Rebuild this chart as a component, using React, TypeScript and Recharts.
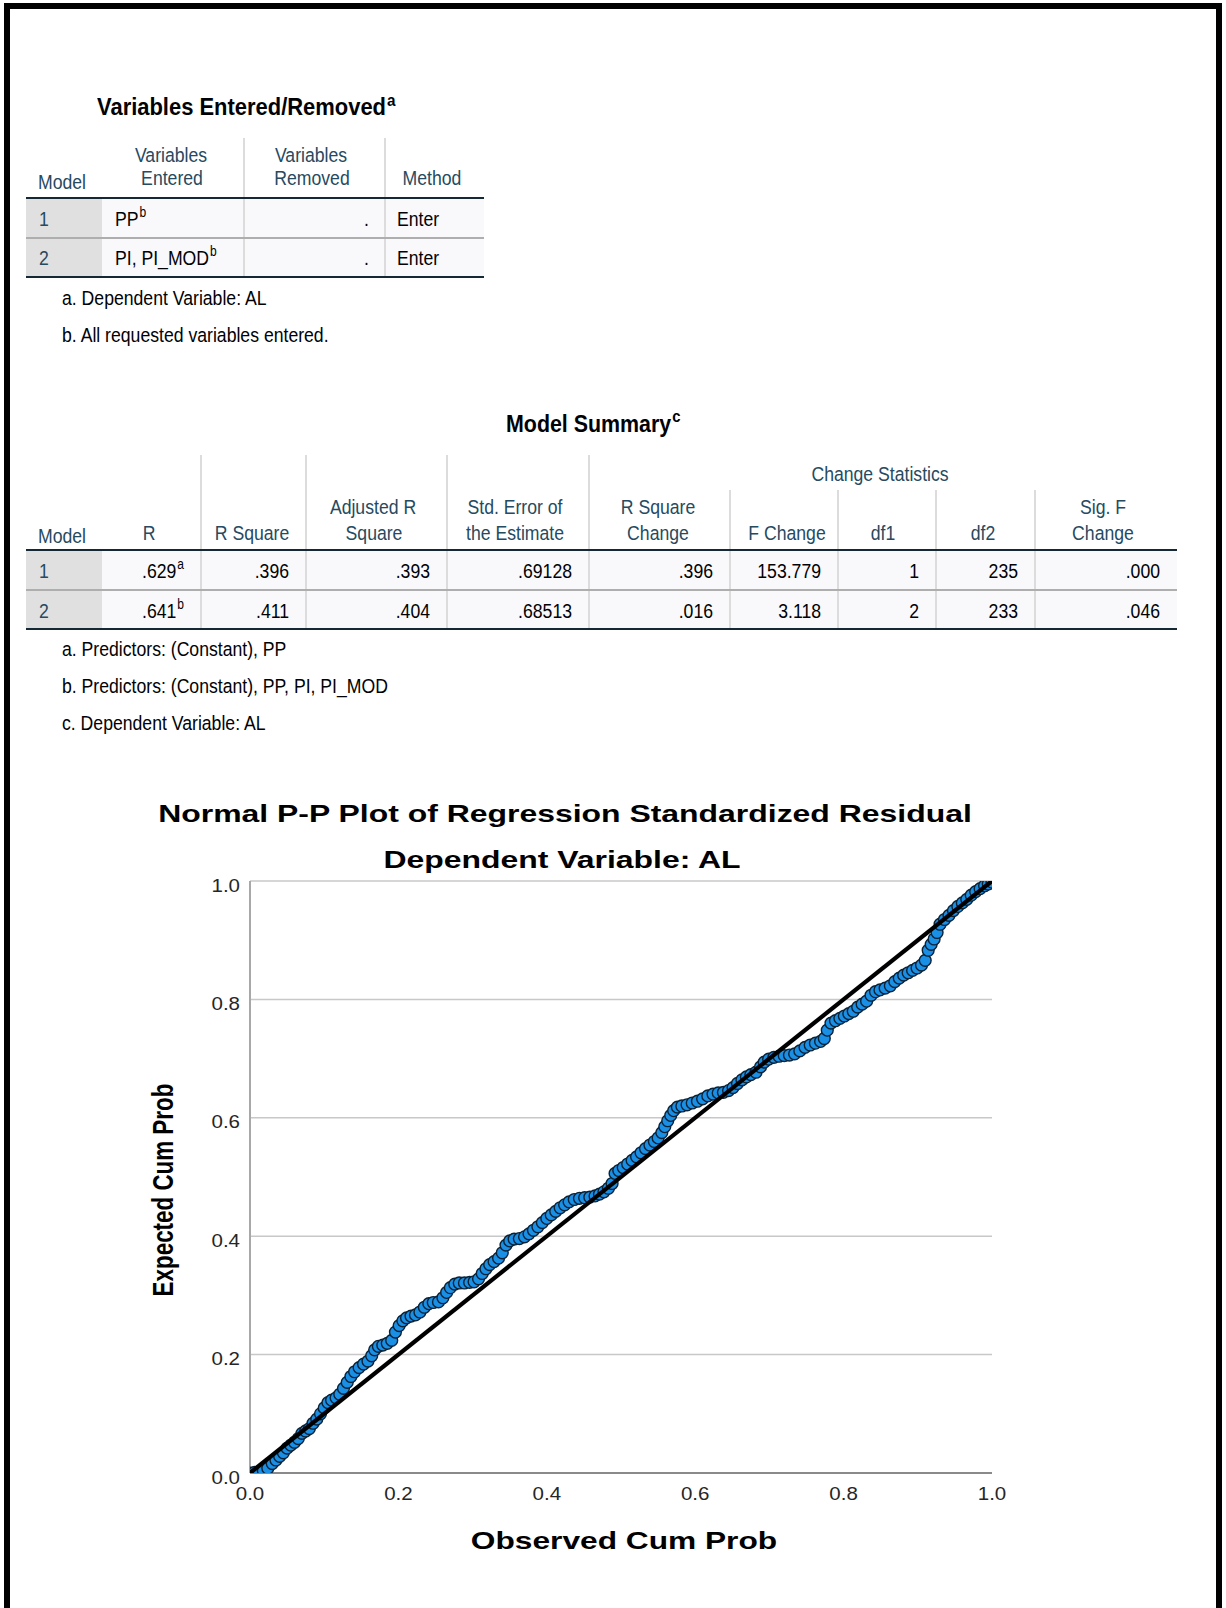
import React from 'react';
import { ScatterChart, Scatter, XAxis, YAxis, CartesianGrid } from 'recharts';

// ---------------- DATA ----------------
const enteredRemovedRows = [
  { model: '1', entered: 'PP', enteredSup: 'b', removed: '.', method: 'Enter' },
  { model: '2', entered: 'PI, PI_MOD', enteredSup: 'b', removed: '.', method: 'Enter' },
];
const enteredRemovedNotes = ['a. Dependent Variable: AL', 'b. All requested variables entered.'];

const summaryRows = [
  { model: '1', r: '.629', rSup: 'a', values: ['.396', '.393', '.69128', '.396', '153.779', '1', '235', '.000'] },
  { model: '2', r: '.641', rSup: 'b', values: ['.411', '.404', '.68513', '.016', '3.118', '2', '233', '.046'] },
];
const summaryNotes = [
  'a. Predictors: (Constant), PP',
  'b. Predictors: (Constant), PP, PI, PI_MOD',
  'c. Dependent Variable: AL',
];

const axisTicks = [0, 0.2, 0.4, 0.6, 0.8, 1.0];
const axisTickLabels = ['0.0', '0.2', '0.4', '0.6', '0.8', '1.0'];

const observedCumProb = [
  0.000, 0.006, 0.012, 0.018, 0.024, 0.030, 0.035, 0.040, 0.045, 0.050,
  0.055, 0.060, 0.065, 0.070, 0.075, 0.080, 0.085, 0.090, 0.095, 0.100,
  0.105, 0.110, 0.116, 0.121, 0.126, 0.131, 0.136, 0.141, 0.147, 0.153,
  0.159, 0.164, 0.168, 0.173, 0.179, 0.185, 0.191, 0.196, 0.201, 0.206,
  0.211, 0.217, 0.223, 0.229, 0.235, 0.241, 0.247, 0.254, 0.260, 0.265,
  0.270, 0.276, 0.282, 0.289, 0.296, 0.302, 0.308, 0.313, 0.318, 0.323,
  0.329, 0.335, 0.340, 0.345, 0.350, 0.356, 0.363, 0.370, 0.376, 0.382,
  0.388, 0.394, 0.400, 0.406, 0.412, 0.418, 0.424, 0.430, 0.437, 0.444,
  0.451, 0.458, 0.465, 0.471, 0.477, 0.483, 0.488, 0.492, 0.497, 0.503,
  0.509, 0.515, 0.521, 0.527, 0.533, 0.539, 0.545, 0.550, 0.555, 0.559,
  0.563, 0.567, 0.571, 0.576, 0.582, 0.589, 0.596, 0.603, 0.610, 0.617,
  0.624, 0.631, 0.638, 0.645, 0.651, 0.657, 0.663, 0.669, 0.675, 0.682,
  0.688, 0.693, 0.699, 0.706, 0.713, 0.720, 0.727, 0.734, 0.741, 0.748,
  0.755, 0.762, 0.769, 0.774, 0.778, 0.783, 0.789, 0.795, 0.801, 0.807,
  0.813, 0.819, 0.825, 0.831, 0.837, 0.843, 0.849, 0.856, 0.863, 0.869,
  0.875, 0.881, 0.887, 0.893, 0.899, 0.905, 0.910, 0.914, 0.918, 0.922,
  0.926, 0.930, 0.936, 0.942, 0.948, 0.954, 0.960, 0.966, 0.972, 0.978,
  0.984, 0.990, 0.995, 1.000,
];
const expectedCumProb = [
  0.000, 0.001, 0.002, 0.004, 0.008, 0.016, 0.022, 0.028, 0.034, 0.042,
  0.047, 0.052, 0.058, 0.067, 0.071, 0.075, 0.084, 0.091, 0.100, 0.110,
  0.119, 0.123, 0.127, 0.133, 0.143, 0.153, 0.163, 0.171, 0.178, 0.184,
  0.189, 0.198, 0.208, 0.214, 0.216, 0.219, 0.224, 0.238, 0.249, 0.257,
  0.262, 0.265, 0.267, 0.272, 0.280, 0.286, 0.288, 0.289, 0.296, 0.305,
  0.313, 0.319, 0.321, 0.321, 0.322, 0.323, 0.328, 0.337, 0.345, 0.352,
  0.357, 0.363, 0.372, 0.385, 0.392, 0.395, 0.396, 0.399, 0.404, 0.410,
  0.416, 0.423, 0.430, 0.436, 0.442, 0.448, 0.453, 0.458, 0.462, 0.464,
  0.465, 0.466, 0.468, 0.471, 0.475, 0.481, 0.489, 0.506, 0.511, 0.516,
  0.522, 0.528, 0.534, 0.541, 0.548, 0.554, 0.560, 0.566, 0.575, 0.585,
  0.595, 0.604, 0.612, 0.618, 0.620, 0.622, 0.625, 0.628, 0.632, 0.637,
  0.640, 0.642, 0.643, 0.646, 0.651, 0.658, 0.664, 0.669, 0.673, 0.677,
  0.686, 0.694, 0.699, 0.702, 0.704, 0.705, 0.706, 0.708, 0.713, 0.719,
  0.723, 0.726, 0.729, 0.734, 0.748, 0.760, 0.764, 0.768, 0.772, 0.776,
  0.780, 0.787, 0.792, 0.797, 0.807, 0.813, 0.816, 0.819, 0.823, 0.830,
  0.836, 0.841, 0.845, 0.849, 0.853, 0.858, 0.866, 0.883, 0.893, 0.902,
  0.913, 0.927, 0.935, 0.942, 0.950, 0.957, 0.963, 0.969, 0.976, 0.982,
  0.987, 0.992, 0.995, 0.998,
];
const diagonal = [{ x: 0, y: 0 }, { x: 1, y: 1 }];

const chartData = observedCumProb.map((x, i) => ({ x, y: expectedCumProb[i] }));

// ---------------- STYLE ----------------
const FONT = "'Liberation Sans', Arial, Helvetica, sans-serif";
const HEAD = '#264a60';
const BODY = '#010205';
const DARK_RULE = '#152935';
const LIGHT_RULE = '#aeaeae';
const VSEP = '#dcdcdc';
const LABEL_BG = '#e0e0e0';
const CELL_BG = '#f9f9fb';

type Align = 'left' | 'right' | 'center';

function Txt(props: {
  x: number; y: number; size?: number; bold?: boolean; color?: string;
  align?: Align; sx?: number; children: React.ReactNode;
}) {
  const { x, y, size = 20.5, bold = false, color = BODY, align = 'left', sx = 0.86, children } = props;
  const shift = align === 'right' ? 'translateX(-100%) ' : align === 'center' ? 'translateX(-50%) ' : '';
  const origin = align === 'right' ? '100% 50%' : align === 'center' ? '50% 50%' : '0 50%';
  return (
    <div
      style={{
        position: 'absolute', left: x, top: y - 0.8465 * size, fontFamily: FONT, fontSize: size,
        lineHeight: `${size}px`, fontWeight: bold ? 700 : 400, color, whiteSpace: 'nowrap',
        transform: `${shift}scaleX(${sx})`, transformOrigin: origin,
      }}
    >
      {children}
    </div>
  );
}

function Sup({ children, size = 14, raise = 9, bold = false }: { children: React.ReactNode; size?: number; raise?: number; bold?: boolean }) {
  return (
    <span style={{ fontSize: size, position: 'relative', top: -raise, lineHeight: 1, marginLeft: 1, fontWeight: bold ? 700 : 400 }}>
      {children}
    </span>
  );
}

function Box({ l, t, w, h, bg }: { l: number; t: number; w: number; h: number; bg: string }) {
  return <div style={{ position: 'absolute', left: l, top: t, width: w, height: h, background: bg }} />;
}
function HLine({ x1, x2, y, w = 2, color }: { x1: number; x2: number; y: number; w?: number; color: string }) {
  return <Box l={x1} t={y - w / 2} w={x2 - x1} h={w} bg={color} />;
}
function VLine({ x, y1, y2, w = 2, color }: { x: number; y1: number; y2: number; w?: number; color: string }) {
  return <Box l={x - w / 2} t={y1} w={w} h={y2 - y1} bg={color} />;
}

// ---------------- TABLE 1 ----------------
function EnteredRemovedTable() {
  const rowBase = [226, 265];
  return (
    <>
      <Txt x={97} y={115} size={23} bold sx={0.954}>
        Variables Entered/Removed<Sup size={16} raise={9} bold>a</Sup>
      </Txt>
      <Box l={26} t={199} w={76} h={77} bg={LABEL_BG} />
      <Box l={102} t={199} w={382} h={77} bg={CELL_BG} />
      <VLine x={244} y1={138} y2={277} color={VSEP} />
      <VLine x={385} y1={138} y2={277} color={VSEP} />
      <HLine x1={26} x2={484} y={198} color={DARK_RULE} />
      <HLine x1={26} x2={484} y={238} color={LIGHT_RULE} />
      <HLine x1={26} x2={484} y={277} color={DARK_RULE} />

      <Txt x={38} y={189} color={HEAD}>Model</Txt>
      <Txt x={171} y={162} color={HEAD} align="center">Variables</Txt>
      <Txt x={172} y={185} color={HEAD} align="center">Entered</Txt>
      <Txt x={311} y={162} color={HEAD} align="center">Variables</Txt>
      <Txt x={312} y={185} color={HEAD} align="center">Removed</Txt>
      <Txt x={432} y={185} color={HEAD} align="center">Method</Txt>

      {enteredRemovedRows.map((r, i) => (
        <React.Fragment key={r.model}>
          <Txt x={39} y={rowBase[i]} color={HEAD}>{r.model}</Txt>
          <Txt x={115} y={rowBase[i]}>
            {r.entered}<Sup>{r.enteredSup}</Sup>
          </Txt>
          <Txt x={369} y={rowBase[i]} align="right">{r.removed}</Txt>
          <Txt x={397} y={rowBase[i]}>{r.method}</Txt>
        </React.Fragment>
      ))}
      {enteredRemovedNotes.map((n, i) => (
        <Txt key={n} x={62} y={305 + i * 37}>{n}</Txt>
      ))}
    </>
  );
}

// ---------------- TABLE 2 ----------------
function ModelSummaryTable() {
  const colRight = [201, 306, 447, 589, 730, 838, 936, 1035, 1177];
  const rowBase = [578, 618];
  return (
    <>
      <Txt x={506} y={432} size={23} bold sx={0.93}>
        Model Summary<Sup size={16} raise={10} bold>c</Sup>
      </Txt>
      <Txt x={880} y={481} color={HEAD} align="center">Change Statistics</Txt>

      <Box l={26} t={551} w={76} h={77} bg={LABEL_BG} />
      <Box l={102} t={551} w={1075} h={77} bg={CELL_BG} />
      {[201, 306, 447, 589].map((x) => <VLine key={x} x={x} y1={455} y2={629} color={VSEP} />)}
      {[730, 838, 936, 1035].map((x) => <VLine key={x} x={x} y1={490} y2={629} color={VSEP} />)}
      <HLine x1={26} x2={1177} y={550} color={DARK_RULE} />
      <HLine x1={26} x2={1177} y={590} color={LIGHT_RULE} />
      <HLine x1={26} x2={1177} y={629} color={DARK_RULE} />

      <Txt x={38} y={543} color={HEAD}>Model</Txt>
      <Txt x={149} y={540} color={HEAD} align="center">R</Txt>
      <Txt x={252} y={540} color={HEAD} align="center">R Square</Txt>
      <Txt x={373} y={514} color={HEAD} align="center">Adjusted R</Txt>
      <Txt x={374} y={540} color={HEAD} align="center">Square</Txt>
      <Txt x={515} y={514} color={HEAD} align="center">Std. Error of</Txt>
      <Txt x={515} y={540} color={HEAD} align="center">the Estimate</Txt>
      <Txt x={658} y={514} color={HEAD} align="center">R Square</Txt>
      <Txt x={658} y={540} color={HEAD} align="center">Change</Txt>
      <Txt x={787} y={540} color={HEAD} align="center">F Change</Txt>
      <Txt x={883} y={540} color={HEAD} align="center">df1</Txt>
      <Txt x={983} y={540} color={HEAD} align="center">df2</Txt>
      <Txt x={1103} y={514} color={HEAD} align="center">Sig. F</Txt>
      <Txt x={1103} y={540} color={HEAD} align="center">Change</Txt>

      {summaryRows.map((r, i) => (
        <React.Fragment key={r.model}>
          <Txt x={39} y={rowBase[i]} color={HEAD}>{r.model}</Txt>
          <Txt x={colRight[0] - 17} y={rowBase[i]} align="right">
            {r.r}<Sup>{r.rSup}</Sup>
          </Txt>
          {r.values.map((v, j) => (
            <Txt key={j} x={colRight[j + 1] - 17} y={rowBase[i]} align="right">{v}</Txt>
          ))}
        </React.Fragment>
      ))}
      {summaryNotes.map((n, i) => (
        <Txt key={n} x={62} y={656 + i * 37}>{n}</Txt>
      ))}
    </>
  );
}

// ---------------- CHART ----------------
const CH_LEFT = 150;
const CH_TOP = 860;
const CH_W = 870;
const CH_H = 680;
const MARGIN = { top: 21, right: 28, left: 40, bottom: 27 };
const Y_AXIS_W = 60;
const X_AXIS_H = 40;
const PLOT_LEFT = MARGIN.left + Y_AXIS_W;
const PLOT_BOTTOM = CH_H - MARGIN.bottom - X_AXIS_H;

function YTick(p: any) {
  const label = axisTickLabels[p.index] ?? String(p.payload?.value);
  return (
    <text
      transform={`translate(${PLOT_LEFT - 10}, ${p.y + 10.5}) scale(1.14, 1)`}
      textAnchor="end" fontFamily={FONT} fontSize={18} fill="#262626"
    >
      {label}
    </text>
  );
}
function XTick(p: any) {
  const label = axisTickLabels[p.index] ?? String(p.payload?.value);
  return (
    <text
      transform={`translate(${p.x}, ${PLOT_BOTTOM + 27}) scale(1.14, 1)`}
      textAnchor="middle" fontFamily={FONT} fontSize={18} fill="#262626"
    >
      {label}
    </text>
  );
}
function Dot(p: any) {
  if (p.cx == null || p.cy == null) return <g />;
  return <circle cx={p.cx} cy={p.cy} r={5.9} fill="#1a8fe6" stroke="#0a2236" strokeWidth={1.4} />;
}
function NoShape() {
  return <g />;
}

function PPChart() {
  return (
    <>
      <Txt x={564.5} y={822} size={24} bold sx={1.33} color="#000" align="center">
        Normal P-P Plot of Regression Standardized Residual
      </Txt>
      <Txt x={562} y={868} size={24} bold sx={1.33} color="#000" align="center">
        Dependent Variable: AL
      </Txt>
      <div style={{ position: 'absolute', left: 164, top: 1189.5, width: 0, height: 0 }}>
        <div
          style={{
            position: 'absolute', left: 0, top: 0, whiteSpace: 'nowrap', fontFamily: FONT,
            fontSize: 22.4, lineHeight: '22.4px', fontWeight: 700, color: '#000',
            transform: 'translate(-50%, -50%) rotate(-90deg) scaleY(1.3)', transformOrigin: '50% 50%',
          }}
        >
          Expected Cum Prob
        </div>
      </div>
      <Txt x={623.5} y={1549} size={24} bold sx={1.32} color="#000" align="center">
        Observed Cum Prob
      </Txt>
      <div style={{ position: 'absolute', left: CH_LEFT, top: CH_TOP }}>
        <ScatterChart width={CH_W} height={CH_H} margin={MARGIN}>
          <CartesianGrid horizontal vertical={false} stroke="#c8c8c8" strokeWidth={1.5} />
          <XAxis
            type="number" dataKey="x" domain={[0, 1]} ticks={axisTicks} interval={0}
            tickLine={false} axisLine={{ stroke: '#8a8a8a', strokeWidth: 2 }} height={X_AXIS_H}
            tick={(p: any) => <XTick {...p} />} allowDataOverflow
          />
          <YAxis
            type="number" dataKey="y" domain={[0, 1]} ticks={axisTicks} interval={0}
            tickLine={false} axisLine={{ stroke: '#a8a8a8', strokeWidth: 2 }} width={Y_AXIS_W}
            tick={(p: any) => <YTick {...p} />} allowDataOverflow
          />
          <Scatter data={chartData} shape={(p: any) => <Dot {...p} />} isAnimationActive={false} />
          <Scatter
            data={diagonal} line={{ stroke: '#000', strokeWidth: 4.2 }} shape={() => <NoShape />}
            isAnimationActive={false}
          />
        </ScatterChart>
      </div>
    </>
  );
}

export default function App() {
  return (
    <div
      style={{
        position: 'absolute', left: 0, top: 0, width: 1226, height: 1608, overflow: 'hidden',
        background: '#fff', fontFamily: FONT,
      }}
    >
      <div
        style={{
          position: 'absolute', left: 4, top: 3, width: 1218, height: 1700,
          border: '6px solid #000', boxSizing: 'border-box',
        }}
      />
      <EnteredRemovedTable />
      <ModelSummaryTable />
      <PPChart />
    </div>
  );
}
